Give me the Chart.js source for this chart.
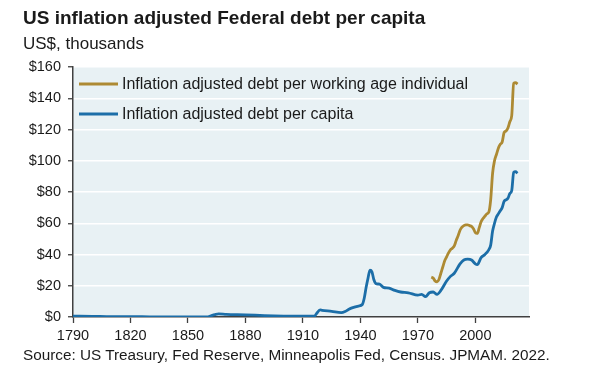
<!DOCTYPE html>
<html>
<head>
<meta charset="utf-8">
<script src="https://cdn.jsdelivr.net/npm/chart.js@4.4.1/dist/chart.umd.min.js"></script>
<style>
  html, body { margin: 0; padding: 0; background: #fff; }
  #wrap { position: relative; width: 600px; height: 382px; font-family: "Liberation Sans", Arial, sans-serif; color: #1a1a1a; }
  #title { position: absolute; left: 23px; top: 7px; font-size: 19px; font-weight: bold; white-space: nowrap; }
  #subtitle { position: absolute; left: 23px; top: 34px; font-size: 17px; white-space: nowrap; }
  #source { position: absolute; left: 23px; top: 346px; font-size: 15.3px; white-space: nowrap; }
  #c { position: absolute; left: 0; top: 0; }
</style>
</head>
<body>
<div id="wrap">
  <canvas id="c" width="600" height="382"></canvas>
  <div id="title">US inflation adjusted Federal debt per capita</div>
  <div id="subtitle">US$, thousands</div>
  <div id="source">Source: US Treasury, Fed Reserve, Minneapolis Fed, Census. JPMAM. 2022.</div>
</div>
<script>
// ---- data (US$ thousands, inflation adjusted) ----
const capitaYears = [1790,1800,1810,1820,1830,1835,1840,1850,1860,1862,1864,1866,1870,1880,1890,1900,1910,1916,1917,1919,1920,1925,1930,1932,1934,1936,1939,1941,1942,1943,1944,1945,1946,1947,1948,1950,1952,1955,1958,1961,1965,1970,1972,1974,1976,1978,1980,1982,1985,1987,1989,1992,1994,1996,1998,2000,2001,2003,2005,2007,2008,2009,2010,2011,2012,2013,2014,2015,2016,2017,2018,2019,2020,2021,2022];
const perCapita   = [0.5,0.4,0.2,0.3,0.05,0.0,0.05,0.1,0.1,0.8,1.5,2.0,1.7,1.4,0.9,0.6,0.5,0.5,2.0,4.5,4.3,3.6,2.8,3.5,5.0,6.0,7.0,8.0,12,19,25,30,29,24,21.5,21,19,18.5,17,16,15.5,14,14.5,13,15.5,16,14.5,17,23,26,28,34,36.5,37,36.5,34,33.5,38,40,43,46,55,60,64,66,68,70,74,75,76,79,81,92.5,93,92];

const workerYears = [1977,1978,1979,1980,1981,1982,1983,1984,1985,1986,1987,1988,1989,1990,1991,1992,1993,1994,1995,1996,1997,1998,1999,2000,2001,2002,2003,2004,2005,2006,2007,2008,2009,2010,2011,2012,2013,2014,2015,2016,2017,2018,2019,2020,2021,2022];
const perWorker   = [25.5,25,23,22.5,24,28,32,36,38.5,41,43,44,45.5,49,52,55.5,57.5,58.5,59,59,58.5,58,56.5,54,53.5,57,61,63,64.5,66,67,75,92,100,104,108,110.5,112,118,119,121,125,129,149.5,150,149];

const seriesLabels = ["Inflation adjusted debt per working age individual", "Inflation adjusted debt per capita"];
const yTicks = [0,20,40,60,80,100,120,140,160];
const xTicks = [1790,1820,1850,1880,1910,1940,1970,2000];

const GOLD = "#ad8a33";
const BLUE = "#1c6ea8";

const toPts = (xs, ys) => xs.map((x, i) => ({x: x, y: ys[i]}));

const bgPlugin = {
  id: 'bg',
  beforeDraw(chart) {
    const {ctx, chartArea: a} = chart;
    ctx.save();
    ctx.fillStyle = "#e8f1f4";
    ctx.fillRect(a.left, a.top, a.right - a.left, a.bottom - a.top);
    ctx.restore();
  }
};

const legendPlugin = {
  id: 'insideLegend',
  afterDatasetsDraw(chart) {
    const {ctx, chartArea: a} = chart;
    ctx.save();
    const colors = [GOLD, BLUE];
    const ys = [a.top + 17, a.top + 47];
    ctx.font = "16px 'Liberation Sans', Arial, sans-serif";
    ctx.textBaseline = "middle";
    for (let i = 0; i < 2; i++) {
      ctx.strokeStyle = colors[i];
      ctx.lineWidth = 3;
      ctx.beginPath();
      ctx.moveTo(a.left + 6, ys[i]);
      ctx.lineTo(a.left + 45, ys[i]);
      ctx.stroke();
      ctx.fillStyle = "#1a1a1a";
      ctx.fillText(seriesLabels[i], a.left + 49, ys[i] + 1);
    }
    ctx.restore();
  }
};

new Chart(document.getElementById('c'), {
  type: 'line',
  data: {
    datasets: [
      { label: seriesLabels[0], data: toPts(workerYears, perWorker), borderColor: GOLD, borderWidth: 2.8, pointRadius: 0, cubicInterpolationMode: 'monotone', fill: false },
      { label: seriesLabels[1], data: toPts(capitaYears, perCapita), borderColor: BLUE, borderWidth: 2.8, pointRadius: 0, cubicInterpolationMode: 'monotone', fill: false }
    ]
  },
  options: {
    responsive: false,
    animation: false,
    layout: { padding: { left: 0, top: 67, right: 71, bottom: 0 } },
    plugins: { legend: { display: false }, tooltip: { enabled: false }, title: { display: false } },
    scales: {
      x: {
        type: 'linear', min: 1790, max: 2028,
        afterFit(s) { s.height = 65; },
        afterBuildTicks(s) { s.ticks = xTicks.map(v => ({value: v})); },
        ticks: { color: "#1a1a1a", font: { family: "'Liberation Sans', Arial, sans-serif", size: 14.5 }, padding: 4, maxRotation: 0, autoSkip: false, callback: v => String(v) },
        grid: { drawOnChartArea: false, drawTicks: true, tickLength: 6, tickColor: "#404040", tickWidth: 1.3 },
        border: { display: true, color: "#404040", width: 1.5 }
      },
      y: {
        min: 0, max: 160,
        afterFit(s) { s.width = 73; },
        afterBuildTicks(s) { s.ticks = yTicks.map(v => ({value: v})); },
        ticks: { color: "#1a1a1a", font: { family: "'Liberation Sans', Arial, sans-serif", size: 14.5 }, padding: 7, callback: v => "$" + v },
        grid: { color: "#ffffff", lineWidth: 1.5, drawTicks: true, tickLength: 5, tickColor: "#404040", tickWidth: 1.3 },
        border: { display: true, color: "#404040", width: 1.5 }
      }
    }
  },
  plugins: [bgPlugin, legendPlugin]
});
</script>
</body>
</html>
